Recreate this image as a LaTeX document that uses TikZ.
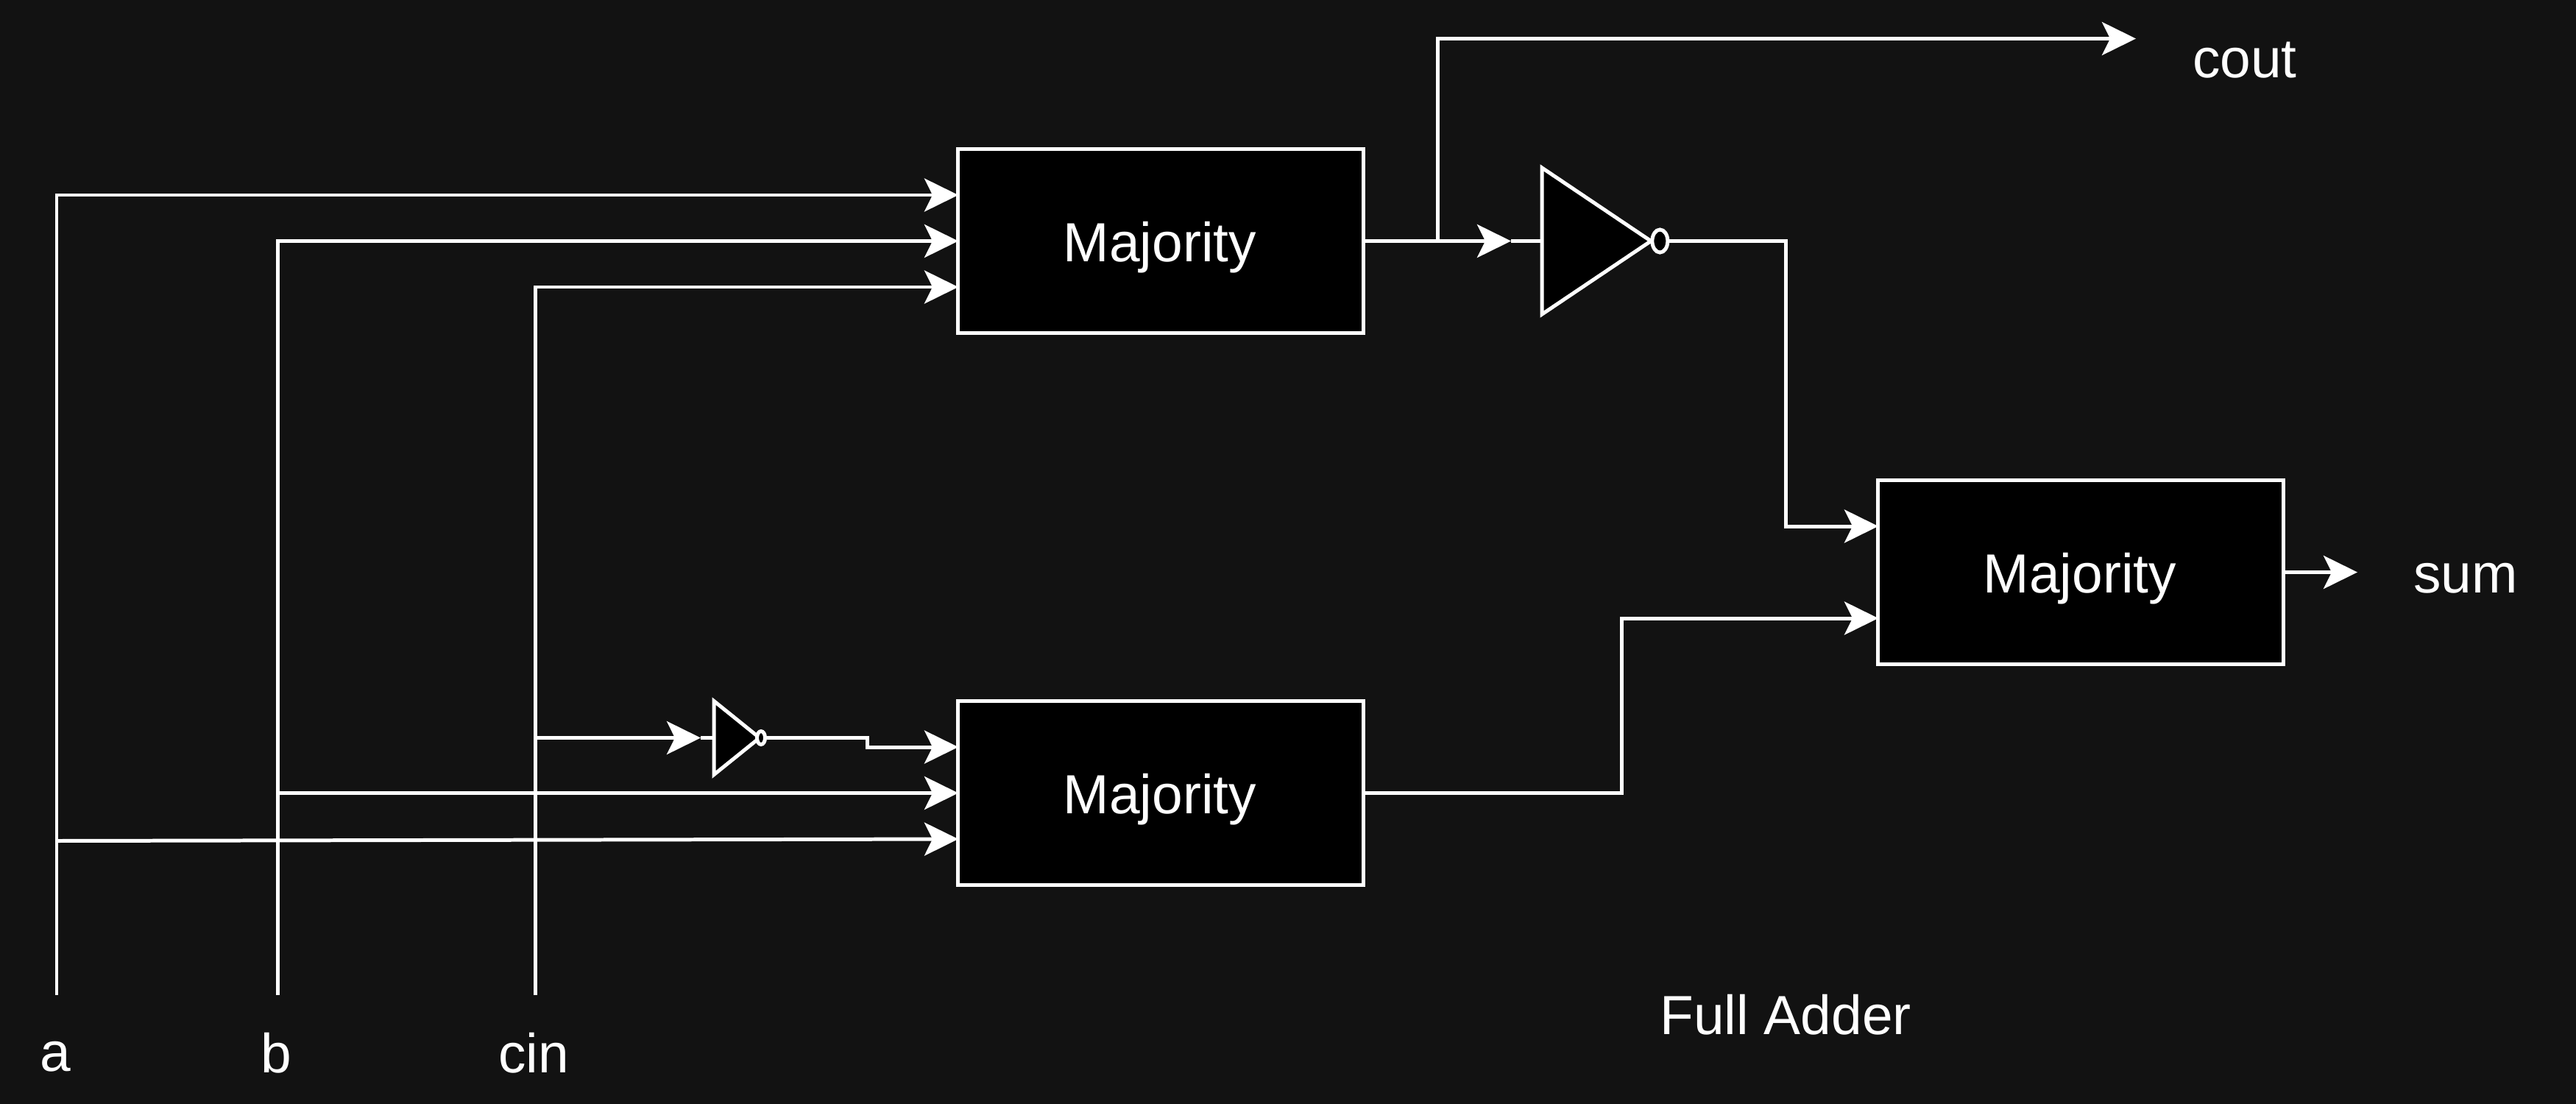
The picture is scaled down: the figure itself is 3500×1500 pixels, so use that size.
\documentclass[tikz,border=0pt]{standalone}
\usepackage{fontspec}
\setmainfont{Liberation Sans}
\usetikzlibrary{arrows.meta,positioning,shapes.geometric}
\definecolor{PageDark}{RGB}{18,18,18}
\tikzset{
  wire/.style={white,line width=1.42pt},
  feed/.style={wire,-{Stealth[length=4.6mm,width=4.5mm,inset=1.1mm]}},
  majbox/.style={draw=white,fill=black,line width=1.42pt,text=white,outer sep=0pt,
    minimum width=5.5cm,minimum height=2.5cm,font=\fontsize{21.3}{25}\selectfont},
  tag/.style={text=white,inner sep=0pt,font=\fontsize{21.3}{25}\selectfont},
  notgate/.style={draw=white,fill=black,line width=1.42pt,isosceles triangle,
    isosceles triangle stretches,inner sep=0pt,outer sep=0pt,anchor=lower side},
  bubble/.style={draw=white,fill=black,line width=1.42pt,ellipse,inner sep=0pt,outer sep=0pt}
}
\begin{document}
\begin{tikzpicture}[x=0.01cm,y=-0.01cm]
  \fill[PageDark] (0,0) rectangle (3500,1500);
  \node[majbox] (MajOne) at (1577,327.5) {};
  \node[majbox] (MajTwo) at (1577,1077.5) {};
  \node[majbox] (MajSum) at (2827,777.5) {};
  \node[tag] (TextOne) at (1576,336) {Majority};
  \node[tag] (TextTwo) at (1576,1086) {Majority};
  \node[tag] (TextSum) at (2826,786) {Majority};
  \node[notgate,minimum height=1.48cm,minimum width=1.99cm] (NotOne) at (2095,327.5) {};
  \node[bubble,minimum width=2.1mm,minimum height=3.1mm,right=0.5pt of NotOne.apex] (BubOne) {};
  \node[notgate,minimum height=0.62cm,minimum width=1.0cm] (NotTwo) at (970,1002.5) {};
  \node[bubble,minimum width=1.1mm,minimum height=1.8mm,right=-1pt of NotTwo.apex] (BubTwo) {};
  \node[tag] (LabA) at (75,1436) {a};
  \node[tag] (LabB) at (375,1431) {b};
  \node[tag] (LabCin) at (725,1431) {cin};
  \node[tag] (LabCout) at (3050,82) {cout};
  \node[tag] (LabSum) at (3350,786) {sum};
  \node[tag] (LabFull) at (2426,1379) {Full Adder};
  \coordinate (aEnd) at (77,1352);
  \coordinate (bEnd) at (377,1352);
  \coordinate (cEnd) at (727,1352);
  \coordinate (aOne) at (1302,265);
  \coordinate (bOne) at (1302,327.5);
  \coordinate (cOne) at (1302,390);
  \coordinate (aTwo) at (1302,1140);
  \coordinate (bTwo) at (1302,1077.5);
  \coordinate (cTwo) at (1302,1015);
  \coordinate (aTap) at (77,1142.5);
  \coordinate (bTap) at (377,1077.5);
  \coordinate (cTap) at (727,1002.5);
  \coordinate (NotTwoIn) at (952,1002.5);
  \coordinate (NotOneIn) at (2053,327.5);
  \coordinate (CoutTap) at (1953,327.5);
  \coordinate (CoutEnd) at (2902,52.5);
  \coordinate (SumOut) at (3203,777.5);
  \coordinate (SumTop) at (2552,715);
  \coordinate (SumLow) at (2552,840);
  \draw[feed] (aEnd) |- (aOne);
  \draw[feed] (bEnd) |- (bOne);
  \draw[feed] (cEnd) |- (cOne);
  \draw[feed] (aTap) -- (aTwo);
  \draw[feed] (bTap) -- (bTwo);
  \draw[feed] (cTap) -- (NotTwoIn);
  \draw[wire] (NotTwoIn) -- (NotTwo.lower side);
  \draw[feed] (BubTwo.east) -- (1178,1002.5) -- (1178,1015) -- (cTwo);
  \draw[feed] (MajOne.east) -- (NotOneIn);
  \draw[wire] (NotOneIn) -- (NotOne.lower side);
  \draw[feed] (CoutTap) |- (CoutEnd);
  \draw[feed] (BubOne.east) -| (2426,715) -- (SumTop);
  \draw[feed] (MajTwo.east) -| (2203,840) -- (SumLow);
  \draw[feed] (MajSum.east) -- (SumOut);
\end{tikzpicture}
\end{document}
